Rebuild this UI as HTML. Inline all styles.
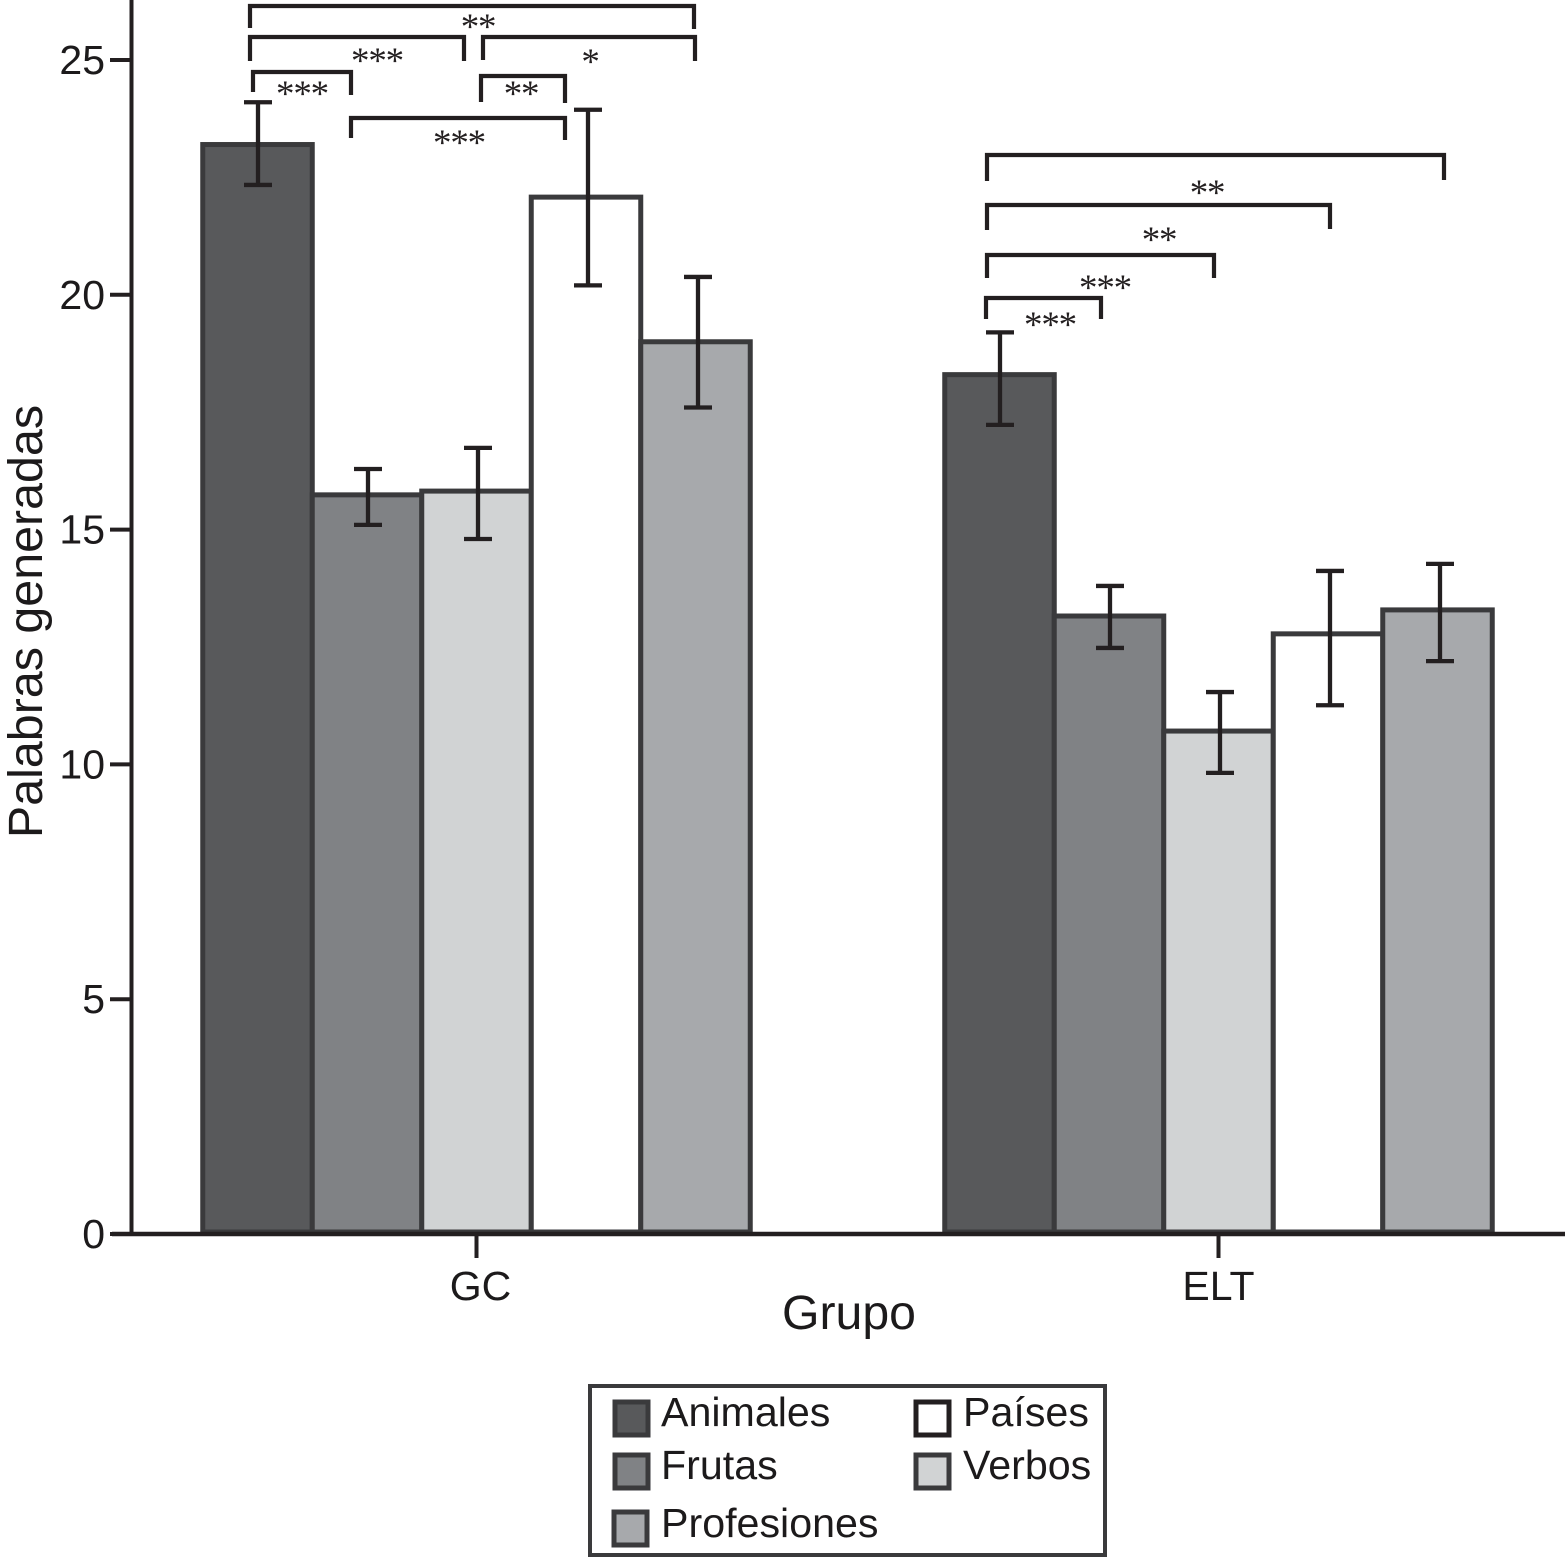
<!DOCTYPE html>
<html lang="es">
<head>
<meta charset="utf-8">
<title>Palabras generadas por grupo</title>
<style>
html,body{margin:0;padding:0;background:#fff;width:1565px;height:1558px;overflow:hidden}
svg{display:block}
text{font-family:"Liberation Sans",sans-serif;fill:#1c1a1b}
.star{font-family:"Liberation Serif",serif;font-size:37px;letter-spacing:-1.2px;text-anchor:middle;fill:#231f20}
.br{fill:none;stroke:#231f20;stroke-width:4.2}
</style>
</head>
<body>
<svg id="chart" xmlns="http://www.w3.org/2000/svg" width="1565" height="1558" viewBox="0 0 1565 1558">
  <g id="bars"></g>
  <g id="errors"></g>
  <g id="axes"></g>

  <g>
    <path class="br" d="M250 28V6H694V29"/>
    <text class="star" x="478" y="39">**</text>
    <path class="br" d="M250 61V37H464V61"/>
    <text class="star" x="377" y="73">***</text>
    <path class="br" d="M483 60V37H695V61"/>
    <text class="star" x="590" y="74">*</text>
    <path class="br" d="M253 92V72H351V95"/>
    <text class="star" x="302" y="106">***</text>
    <path class="br" d="M481 102V76H565V103"/>
    <text class="star" x="521" y="106">**</text>
    <path class="br" d="M351 138V118H565V140"/>
    <text class="star" x="459" y="155">***</text>
  </g>

  <g>
    <path class="br" d="M987 181V155H1444V180"/>
    <path class="br" d="M987 230V205H1330V229"/>
    <text class="star" x="1207" y="205">**</text>
    <path class="br" d="M987 278V255H1214V278"/>
    <text class="star" x="1159" y="252">**</text>
    <path class="br" d="M986 319V298H1101V319"/>
    <text class="star" x="1105" y="300">***</text>
    <text class="star" x="1050" y="337">***</text>
  </g>

  <g>
    <rect x="590" y="1386" width="515" height="169" fill="#fff" stroke="#3a3a3c" stroke-width="4"/>
    <rect x="615" y="1402" width="33" height="33" fill="#58595b" stroke="#3a3a3c" stroke-width="5"/>
    <text x="661" y="1426" font-size="41.2">Animales</text>
    <rect x="615" y="1455" width="33" height="33" fill="#808285" stroke="#3a3a3c" stroke-width="5"/>
    <text x="661" y="1479" font-size="41.2">Frutas</text>
    <rect x="614" y="1512" width="33" height="33" fill="#a7a9ac" stroke="#3a3a3c" stroke-width="5"/>
    <text x="661" y="1537" font-size="41.2">Profesiones</text>
    <rect x="916" y="1402" width="33" height="33" fill="#fff" stroke="#231f20" stroke-width="5"/>
    <text x="963" y="1426" font-size="41.2">Países</text>
    <rect x="916" y="1455" width="33" height="33" fill="#d1d3d4" stroke="#3a3a3c" stroke-width="5"/>
    <text x="963" y="1479" font-size="41.2">Verbos</text>
  </g>

  <text x="849" y="1329" font-size="48.2" text-anchor="middle">Grupo</text>
  <text transform="translate(42 621.5) rotate(-90)" font-size="48.4" text-anchor="middle">Palabras generadas</text>
</svg>
<script>
const groups = ['GC', 'ELT'];
const seriesNames = ['Animales', 'Frutas', 'Verbos', 'Países', 'Profesiones'];
const yTicks = [0, 5, 10, 15, 20, 25];
const meansGC = [23.2, 15.74, 15.82, 22.08, 19.0];
const meansELT = [18.3, 13.16, 10.71, 12.78, 13.29];
const upperGC = [24.1, 16.29, 16.74, 23.94, 20.38];
const lowerGC = [22.34, 15.1, 14.8, 20.2, 17.6];
const upperELT = [19.2, 13.8, 11.54, 14.12, 14.27];
const lowerELT = [17.23, 12.48, 9.82, 11.26, 12.2];

const means = [meansGC, meansELT];
const uppers = [upperGC, upperELT];
const lowers = [lowerGC, lowerELT];
const fills = ['#58595b', '#808285', '#d1d3d4', '#ffffff', '#a7a9ac'];

const NS = 'http://www.w3.org/2000/svg';
const y0 = 1234, pxPerUnit = 46.96;
const barW = 109.5;
const groupCenters = [476.5, 1218.5];
const yScale = v => y0 - v * pxPerUnit;
const xLeft = (g, s) => groupCenters[g] + (s - 2.5) * barW;
const xErr = (g, s) => groupCenters[g] + (s - 2) * 110 + 1.5;

function make(tag, attrs, parent) {
  const el = document.createElementNS(NS, tag);
  for (const k in attrs) el.setAttribute(k, attrs[k]);
  parent.appendChild(el);
  return el;
}

const barsG = document.getElementById('bars');
const errG = document.getElementById('errors');
const axesG = document.getElementById('axes');

groups.forEach((g, gi) => {
  seriesNames.forEach((s, si) => {
    const top = yScale(means[gi][si]);
    const rect = make('rect', {x: xLeft(gi, si), y: top, width: barW, height: y0 - 2 - top, fill: fills[si], stroke: '#3a3a3c', 'stroke-width': 5}, barsG);
    
    

    const cx = xErr(gi, si);
    const yu = yScale(uppers[gi][si]);
    const yl = yScale(lowers[gi][si]);
    const err = make('path', {d: 'M' + (cx - 14) + ' ' + yu + 'H' + (cx + 14) + 'M' + cx + ' ' + yu + 'V' + yl + 'M' + (cx - 14) + ' ' + yl + 'H' + (cx + 14), fill: 'none', stroke: '#231f20', 'stroke-width': 4.3}, errG);
    
    
  });
});

const yLine = make('line', {x1: 131.5, y1: 0, x2: 131.5, y2: y0, stroke: '#231f20', 'stroke-width': 4}, axesG);



const xLine = make('line', {x1: 112, y1: y0, x2: 1565, y2: y0, stroke: '#231f20', 'stroke-width': 4.5}, axesG);



yTicks.forEach(t => {
  const y = yScale(t);
  const tick = make('line', {x1: 110, y1: y, x2: 132, y2: y, stroke: '#231f20', 'stroke-width': 4}, axesG);
  
  
  const label = make('text', {x: 105, y: y + 14, 'font-size': 41, 'text-anchor': 'end'}, axesG);
  label.textContent = t;
  
  
});

groups.forEach((g, gi) => {
  const x = groupCenters[gi];
  const tick = make('line', {x1: x, y1: y0, x2: x, y2: 1258, stroke: '#231f20', 'stroke-width': 4}, axesG);
  
  
  const label = make('text', {x: x + (gi === 0 ? 4 : 0), y: 1300, 'font-size': 41, 'text-anchor': 'middle'}, axesG);
  label.textContent = g;
  
  
});
</script>
</body>
</html>
